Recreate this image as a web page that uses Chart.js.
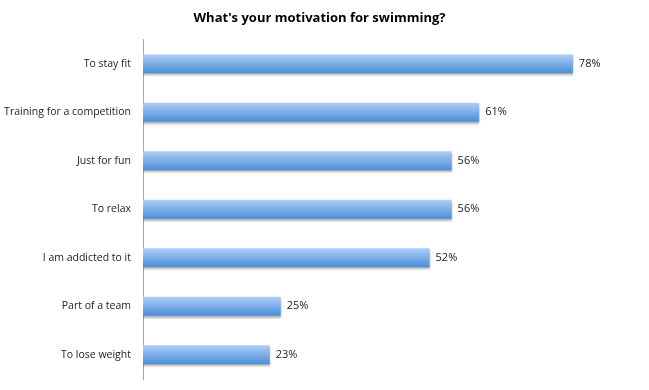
<!DOCTYPE html>
<html>
<head>
<meta charset="utf-8">
<script src="https://cdn.jsdelivr.net/npm/chart.js@4"></script>
<style>
  html, body { margin: 0; padding: 0; background: #fff; overflow: hidden; }
  canvas { display: block; }
</style>
</head>
<body>
<canvas id="swimChart" width="649" height="390"></canvas>
<script>
const categories = ['To stay fit', 'Training for a competition', 'Just for fun', 'To relax',
  'I am addicted to it', 'Part of a team', 'To lose weight'];
const percentages = [78, 61, 56, 56, 52, 25, 23];
const chartTitle = "What's your motivation for swimming?";
const BAR_PCT = 0.39;

// percentage labels to the right of each bar
const valueLabels = {
  id: 'valueLabels',
  afterDatasetsDraw(chart) {
    const ctx = chart.ctx;
    const meta = chart.getDatasetMeta(0);
    ctx.save();
    ctx.font = '11px "Open Sans", sans-serif';
    ctx.fillStyle = '#222';
    ctx.textBaseline = 'middle';
    meta.data.forEach((bar, i) => {
      ctx.fillText(percentages[i] + '%', bar.x + 6, bar.y);
    });
    ctx.restore();
  }
};

// soft grey shadow under the bars
const barShadow = {
  id: 'barShadow',
  beforeDatasetsDraw(chart) {
    const ctx = chart.ctx;
    ctx.save();
    ctx.shadowColor = 'rgba(0,0,0,0.3)';
    ctx.shadowBlur = 2;
    ctx.shadowOffsetY = 2;
  },
  afterDatasetsDraw(chart) {
    chart.ctx.restore();
  }
};

function barGradient(context) {
  const chart = context.chart;
  const area = chart.chartArea;
  const yScale = chart.scales.y;
  if (!area || !yScale || context.dataIndex === undefined) return '#6aa3e6';
  const cy = yScale.getPixelForValue(context.dataIndex);
  const half = (area.height / categories.length) * BAR_PCT / 2;
  if (!Number.isFinite(cy) || !Number.isFinite(half)) return '#6aa3e6';
  const g = chart.ctx.createLinearGradient(0, cy - half, 0, cy + half);
  g.addColorStop(0, '#aecdf6');
  g.addColorStop(1, '#4a8ed8');
  return g;
}

new Chart(document.getElementById('swimChart'), {
  type: 'bar',
  data: {
    labels: categories,
    datasets: [{
      data: percentages,
      backgroundColor: barGradient,
      borderWidth: 0,
      categoryPercentage: 1,
      barPercentage: BAR_PCT
    }]
  },
  options: {
    indexAxis: 'y',
    responsive: false,
    animation: false,
    layout: { padding: { left: 0, right: 10, top: 0, bottom: 11 } },
    plugins: {
      legend: { display: false },
      tooltip: { enabled: false },
      title: {
        display: true,
        text: chartTitle,
        color: '#000',
        font: { family: '"Open Sans", sans-serif', size: 13, weight: 'bold' },
        padding: { top: 10, bottom: 14 }
      }
    },
    scales: {
      x: { display: false, min: 0, max: 90 },
      y: {
        afterFit(scale) {
          scale.width = 143;
          scale.paddingTop = 0;
          scale.paddingBottom = 0;
        },
        grid: { display: false, drawTicks: false },
        border: { display: true, color: '#a6a6a6', width: 1 },
        ticks: {
          padding: 12,
          color: '#222',
          font: { family: '"Open Sans", sans-serif', size: 10.5 }
        }
      }
    }
  },
  plugins: [barShadow, valueLabels]
});
</script>
</body>
</html>
